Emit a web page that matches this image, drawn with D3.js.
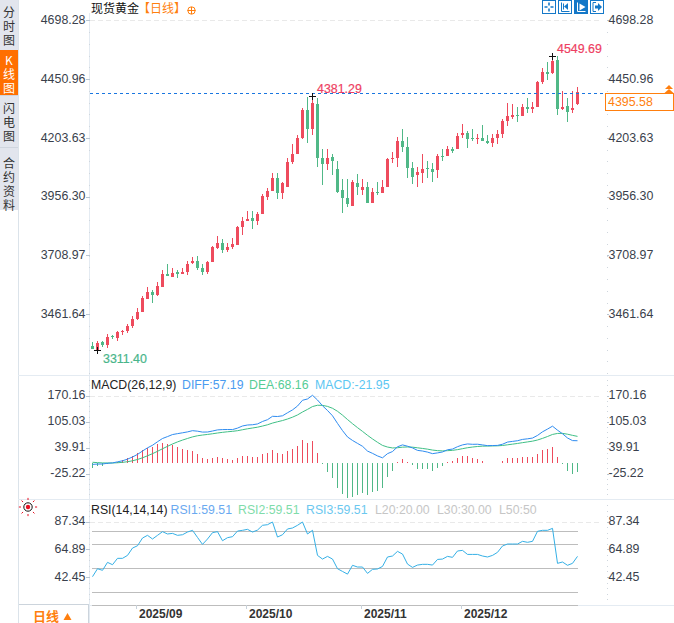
<!DOCTYPE html>
<html><head><meta charset="utf-8">
<script src="https://cdn.jsdelivr.net/npm/d3@7/dist/d3.min.js"></script>
<style>
html,body{margin:0;padding:0;background:#fff;overflow:hidden}
svg{display:block}
text{font-family:"Liberation Sans",Arial,sans-serif}
.cjk{font-family:"Noto Sans CJK SC",sans-serif}
</style></head><body><svg id="c" width="674" height="623"></svg>
<script>
const opens=[3329,3313,3346,3333,3369,3362,3389,3392,3413,3442,3471,3526,3555,3543,3576,3631,3618,3639,3631,3639,3677,3685,3656,3639,3681,3740,3761,3731,3744,3752,3828,3853,3865,3853,3882,3953,3979,4037,3970,3999,4104,4138,4205,4322,4243,4347,4121,4092,4125,4071,3983,3949,3916,4016,3983,3995,3928,3974,3970,3995,4113,4121,4192,4167,4075,4046,4058,4075,4071,4067,4129,4129,4159,4155,4217,4226,4205,4201,4205,4192,4184,4205,4222,4276,4293,4301,4297,4335,4326,4335,4440,4482,4477,4532,4326,4339,4322,4347];
const closes=[3314,3341,3333,3366,3365,3387,3392,3413,3442,3471,3530,3555,3543,3580,3631,3622,3635,3631,3639,3673,3685,3656,3639,3681,3744,3761,3731,3744,3756,3828,3853,3861,3853,3882,3958,3979,4037,3970,4012,4104,4138,4205,4322,4243,4352,4121,4092,4121,4108,3974,3949,3924,4020,3999,3995,3928,3974,3970,3995,4113,4121,4192,4167,4079,4041,4062,4071,4071,4062,4129,4125,4159,4150,4213,4226,4201,4197,4205,4192,4184,4205,4222,4276,4297,4301,4297,4335,4326,4335,4440,4482,4473,4528,4326,4335,4314,4331,4395.58];
const highs=[3346,3350,3350,3379,3375,3392,3396,3421,3454,3488,3538,3576,3564,3597,3647,3673,3656,3647,3656,3685,3702,3706,3673,3685,3748,3790,3777,3761,3781,3832,3870,3895,3895,3891,3966,3991,4058,4058,4020,4117,4180,4217,4331,4377,4381.29,4373,4155,4155,4138,4108,4029,4029,4025,4050,4029,4020,3991,4020,4025,4117,4146,4209,4243,4209,4104,4083,4134,4108,4100,4138,4159,4171,4167,4226,4264,4234,4243,4222,4259,4217,4222,4238,4285,4352,4347,4335,4347,4373,4356,4444,4498,4524,4549.69,4549,4402,4373,4402,4419];
const lows=[3314,3311.4,3325,3320,3358,3350,3375,3383,3404,3438,3471,3526,3509,3538,3576,3622,3618,3614,3631,3626,3673,3647,3626,3631,3681,3735,3719,3723,3735,3752,3794,3853,3819,3836,3882,3941,3979,3945,3945,3999,4092,4138,4201,4184,4217,4083,4004,4067,4046,3970,3886,3911,3916,3962,3962,3928,3928,3962,3970,3995,4096,4083,4146,4037,4008,3995,4016,4037,4020,4037,4108,4129,4142,4155,4205,4163,4192,4176,4192,4176,4167,4180,4205,4255,4285,4272,4297,4310,4310,4335,4431,4448,4473,4301,4322,4272,4310,4343];
const macdHist=[-10.5,-7.1,-5.4,-1.5,0.4,4.6,8,13,19,25.6,34,40,42.3,48,51.5,49,47.3,41.5,36.5,33,31.4,23,14.7,12.2,13.8,15.5,13.8,11.3,8.8,13,18.9,18.9,16.3,16.3,23,25.6,34,26.4,23.9,31.4,36.5,44.8,59,52.4,56.6,26.4,-2.1,-20.5,-37.7,-60.8,-77.5,-87.6,-84.2,-79.2,-75,-79.2,-72.5,-68.3,-62.4,-33.1,-18,4.6,11.3,3.8,-3.8,-13,-13,-14.7,-18,-11.3,-5.4,4.6,6.3,14.7,18.9,18.9,13.8,11.3,6.3,2.1,2.1,2.1,6.3,13.8,13.8,13.8,16.3,15.5,15.5,23,33.1,37.3,41.5,16.3,-2.1,-18.9,-26.4,-21.95];
const dea=[3,2.1,1.4,1.2,1.2,1.8,2.8,4.4,6.8,10,14.3,19.3,24.6,30.6,37,43.1,49,54.2,58.8,62.9,66.8,69.7,71.5,73,74.7,76.6,78.3,79.7,80.8,82.4,84.8,87.2,89.2,91.2,94.1,97.3,101.6,104.9,107.9,111.8,116.4,122,129.4,136,143.1,146.4,146.1,143.5,138.8,131.2,121.5,110.5,100,90.1,80.7,70.8,61.7,53.2,45.4,41.3,39,39.6,41,41.5,41,39.4,37.8,36,33.7,32.3,31.6,32.2,33,34.8,37.2,39.6,41.3,42.7,43.5,43.8,44.1,44.4,45.2,46.9,48.6,50.3,52.3,54.2,56.1,59,63.1,67.8,73,75.5,75.7,73.6,70.7,68.16];
const diff=[-2.3,-1.5,-1.3,0.5,1.4,4.1,6.8,10.9,16.3,22.8,31.3,39.3,45.8,54.6,62.8,67.6,72.7,75,77.1,79.4,82.5,81.2,78.9,79.1,81.6,84.4,85.2,85.4,85.2,88.9,94.3,96.7,97.4,99.4,105.6,110.1,118.6,118.1,119.9,127.5,134.7,144.4,158.9,162.2,171.4,159.6,145.1,133.2,119.9,100.8,82.7,66.7,57.9,50.5,43.2,31.2,25.4,19,14.2,24.7,30,41.9,46.7,43.4,39.1,32.9,31.3,28.6,24.7,26.6,28.9,34.5,36.2,42.2,46.7,49.1,48.2,48.4,46.7,44.8,45.1,45.4,48.4,53.8,55.5,57.2,60.5,62,63.9,70.5,79.6,86.5,93.8,83.7,74.7,64.1,57.5,57.19];
const rsi=[42.9,49.4,48.1,54.6,52.7,57.9,57.9,60.3,66.3,68.2,74.5,76.7,73.7,76.7,79.7,77.8,78.3,76.7,77.2,79.4,80.8,75,69.3,73.7,78.9,79.7,72.3,74.8,75.6,80.2,80.8,81.6,79.4,81,84.9,85.4,87.6,75.3,77.2,81.9,82.7,84.9,87.6,77.8,80.8,60.3,57.3,59.5,57.3,49.4,47.2,45,52.2,50.8,50.8,45.6,48.9,49.2,51.3,59,59.8,63.6,61.4,53.2,50.5,52.4,53,53,52.4,57,57.3,59.5,58.7,63.9,64.4,61.1,61.1,61.1,59.8,59,60.3,62.8,68,69.6,69.6,69.6,71.8,71,71.8,80,80.8,80.8,82.4,53.8,54.9,52.2,53.8,59.51];
const rsiLevels=[80,70,50,30,20];
const priceTicks=[4698.28,4450.96,4203.63,3956.30,3708.97,3461.64];
const macdTicks=[170.16,105.03,39.91,-25.22];
const rsiTicks=[87.34,64.89,42.45];
const monthIdx=[9,31,54,74];
const monthLabels=["2025/09","2025/10","2025/11","2025/12"];
const tabs=["分时图","K线图","闪电图","合约资料"];
const lastPrice=4395.58;
const RED="#ee4b5d",GREEN="#50b887",ORANGE="#ff7f0e",LINE="#e4ebf2",TXT="#3a3f4c";

const svg=d3.select("#c");
const x=d3.scaleLinear().domain([0,97]).range([92.5,577.5]);
const yP=d3.scaleLinear().domain([3461.64,4698.28]).range([314.3,20.3]);
const yM=d3.scaleLinear().domain([-25.22,170.16]).range([473.5,395.8]);
const yR=d3.scaleLinear().domain([20,80]).range([604.7,531.3]);

// panel frames
const bg=svg.append("g");
bg.append("rect").attr("x",0).attr("y",0).attr("width",18).attr("height",210).attr("fill","#e2e5ed");
bg.append("rect").attr("x",18).attr("y",0).attr("width",1).attr("height",623).attr("fill","#dbe3ea");
[375,499].forEach(y=>bg.append("rect").attr("x",18).attr("y",y).attr("width",656).attr("height",1).attr("fill",LINE));
bg.append("rect").attr("x",89).attr("y",605).attr("width",585).attr("height",1).attr("fill",LINE);
bg.append("rect").attr("x",89).attr("y",13).attr("width",1).attr("height",610).attr("fill",LINE);
bg.append("rect").attr("x",19).attr("y",604).attr("width",70).attr("height",1).attr("fill","#ccd4dc");
bg.append("rect").attr("x",88).attr("y",604).attr("width",1).attr("height",19).attr("fill","#ccd4dc");

// side tabs (one vertical text per tab)
const tabTop=[0,50,97,149],tabH=[49,46,50,61],tabText=[6,54,102,157];
tabs.forEach((t,i)=>{
  const g=svg.append("g");
  if(i==1) g.append("rect").attr("x",0).attr("y",tabTop[i]).attr("width",18).attr("height",tabH[i]).attr("fill","#ff6f00");
  if(i>1) g.append("rect").attr("x",0).attr("y",tabTop[i]-2).attr("width",18).attr("height",1).attr("fill","#cfd5de");
  g.append("text").attr("class","cjk").attr("x",9).attr("y",tabText[i])
    .attr("font-size",12).attr("letter-spacing",2.2)
    .style("writing-mode","vertical-rl").style("text-orientation","upright")
    .attr("fill",i==1?"#fff":"#333").text(t);
});

// axes
function axisPanel(scale,ticks,y0,y1,step){
  const minor=[];
  for(let v=scale.domain()[1],n=0;n<60;n++,v-=step){const p=scale(v);if(p>y0&&p<y1)minor.push(v);}
  for(let v=scale.domain()[1]+step,n=0;n<4;n++,v+=step){const p=scale(v);if(p>y0&&p<y1)minor.push(v);}
  [[d3.axisLeft,89.5],[d3.axisRight,606.5]].forEach(([ax,px],k)=>{
    const gm=svg.append("g").attr("transform",`translate(${px},0)`)
      .call(ax(scale).tickValues(minor).tickSize(1).tickFormat(""));
    gm.select(".domain").remove();
    gm.selectAll("line").attr("stroke","#cfd6dd").attr("shape-rendering","crispEdges");
    const g=svg.append("g").attr("transform",`translate(${px},0)`)
      .call(ax(scale).tickValues(ticks).tickSize(k?2:4).tickPadding(k?1:0).tickFormat(d=>d.toFixed(2)));
    g.select(".domain").remove();
    g.selectAll("line").attr("stroke","#b9c6d2").attr("shape-rendering","crispEdges");
    g.selectAll("text").attr("font-size",12.4).attr("fill",TXT)
      .attr("font-family",'"Liberation Sans",Arial,sans-serif').attr("dy","0.25em")
      .attr("x",k?2:-4);
  });
}
axisPanel(yP,priceTicks,14,375,247.33/5);
axisPanel(yM,macdTicks,376,499,65.13/5);
axisPanel(d3.scaleLinear().domain([42.45,87.34]).range([577,521.6]),rsiTicks,500,604,22.45/5);

// top dashed
[[yP(priceTicks[0]),89],[yM(macdTicks[0]),89],[yR(87.34)-.6,89]].forEach(([y])=>{
  svg.append("line").attr("x1",90).attr("x2",602).attr("y1",Math.round(y)+.5).attr("y2",Math.round(y)+.5)
    .attr("stroke","#e9e9e9").attr("stroke-dasharray","5 3");
});

// candles
const idx=d3.range(opens.length);
const gC=svg.append("g").attr("shape-rendering","crispEdges");
const col=i=>closes[i]>=opens[i]?RED:GREEN;
gC.selectAll(".w").data(idx).join("rect").attr("class","w")
  .attr("x",i=>Math.floor(x(i))).attr("width",1)
  .attr("y",i=>Math.round(yP(highs[i]))).attr("height",i=>Math.max(1,Math.round(yP(lows[i]))-Math.round(yP(highs[i]))))
  .attr("fill",col);
gC.selectAll(".b").data(idx).join("rect").attr("class","b")
  .attr("x",i=>Math.floor(x(i))-1).attr("width",3)
  .attr("y",i=>Math.round(yP(Math.max(opens[i],closes[i]))))
  .attr("height",i=>Math.max(1,Math.round(yP(Math.min(opens[i],closes[i])))-Math.round(yP(Math.max(opens[i],closes[i])))))
  .attr("fill",col);

// last-price line
const ly=Math.ceil(yP(lastPrice))+.5;
svg.append("line").attr("x1",90).attr("x2",606).attr("y1",ly).attr("y2",ly)
  .attr("stroke","#1976e0").attr("stroke-dasharray","3 3").attr("shape-rendering","crispEdges");

// hi / lo markers
function cross(i,v){
  const cx=Math.floor(x(i))+.5,cyy=Math.round(yP(v))+.5;
  svg.append("path").attr("d",`M${cx-3.5},${cyy}H${cx+3.5}M${cx},${cyy-3.5}V${cyy+3.5}`).attr("stroke","#111").attr("shape-rendering","crispEdges");
}
cross(44,highs[44]);cross(92,highs[92]);cross(1,lows[1]);
const lab=(tx,ty,s,c,fw)=>svg.append("text").attr("x",tx).attr("y",ty).attr("font-size",12.4).attr("font-weight",fw||"normal").attr("fill",c).text(s);
lab(317,93,"4381.29","#ee3f62").attr("stroke","#ee3f62").attr("stroke-width",.2);
lab(557,52.5,"4549.69","#ee3f62").attr("stroke","#ee3f62").attr("stroke-width",.2);
lab(103,362.5,"3311.40","#48b58a").attr("stroke","#48b58a").attr("stroke-width",.2);

// current price box
svg.append("rect").attr("x",605.5).attr("y",93.5).attr("width",67.5).attr("height",16.5).attr("fill","#fff").attr("stroke",ORANGE).attr("shape-rendering","crispEdges");
lab(608,106,"4395.58",ORANGE);
svg.append("path").attr("d","M669,85l4,4h-8zM669,89l4.5,4h-9z").attr("fill",ORANGE);

// title
svg.append("text").attr("class","cjk").attr("x",91).attr("y",13).attr("font-size",12).attr("fill","#111").text("现货黄金");
svg.append("text").attr("class","cjk").attr("x",138).attr("y",13).attr("font-size",12).attr("fill",ORANGE).text("【日线】");
svg.append("circle").attr("cx",191.5).attr("cy",10.5).attr("r",3.7).attr("fill","none").attr("stroke",ORANGE);
svg.append("path").attr("d","M187.5,10.5h8M191.5,7v7").attr("stroke",ORANGE);

// toolbar icons
const BL="#1478c8";
[[542.5,0],[558.5,0],[574.5,1],[590.5,0]].forEach(([bx,f],i)=>{
  const g=svg.append("g").attr("transform",`translate(${bx},0.5)`);
  g.append("rect").attr("width",13).attr("height",13).attr("fill",f?BL:"#fff").attr("stroke",BL).attr("shape-rendering","crispEdges");
  const c=f?"#fff":BL;
  if(i==0) g.append("path").attr("d","M6.5,2v3M6.5,8v3M2,6.5h3M8,6.5h3").attr("stroke",c).attr("stroke-width",1.6);
  if(i==1){g.append("path").attr("d","M3,2v9h8M5,3v6M9,3v6").attr("stroke",c).attr("fill","none");g.append("path").attr("d","M5.5,6l3,-2.5v5z").attr("fill",c);}
  if(i==2){g.append("path").attr("d","M3,2v9h8").attr("stroke",c).attr("fill","none");g.append("path").attr("d","M5,3l6,3.5-6,3.5z").attr("fill",c);}
  if(i==3){g.append("path").attr("d","M2.5,2v9M2.5,2h3M2.5,11h3").attr("stroke",c).attr("fill","none");g.append("path").attr("d","M4.5,5h3V2.5l4,4-4,4V8h-3z").attr("fill",c);}
});

// MACD
const legend=(ty,items)=>items.forEach(([tx,s,c])=>svg.append("text").attr("x",tx).attr("y",ty).attr("font-size",12.3).attr("fill",c).text(s));
legend(388.5,[[91,"MACD(26,12,9)","#222"],[182,"DIFF:57.19","#4a9bf0"],[249,"DEA:68.16","#55cc95"],[315,"MACD:-21.95","#5cc6f2"]]);
svg.append("g").attr("shape-rendering","crispEdges").selectAll("rect").data(idx).join("rect")
  .attr("x",i=>Math.floor(x(i))).attr("width",1)
  .attr("y",i=>Math.min(yM(0),yM(macdHist[i]))).attr("height",i=>Math.abs(yM(macdHist[i])-yM(0)))
  .attr("fill",i=>macdHist[i]>=0?RED:GREEN);
const ln=(s,arr)=>d3.line().x((d,i)=>x(i)).y(d=>s(d))(arr);
svg.append("path").attr("d",ln(yM,dea)).attr("fill","none").attr("stroke","#3fbf86");
svg.append("path").attr("d",ln(yM,diff)).attr("fill","none").attr("stroke","#2f8cf0");

// RSI
legend(514,[[91,"RSI(14,14,14)","#222"],[170.5,"RSI1:59.51","#6aa9f0"],[238,"RSI2:59.51","#7fdcaa"],[306,"RSI3:59.51","#6cc8ef"],[375,"L20:20.00","#c6c6c6"],[437,"L30:30.00","#c6c6c6"],[499,"L50:50","#c6c6c6"]]);
svg.append("g").selectAll("line").data(rsiLevels).join("line")
  .attr("x1",x(0)-.5).attr("x2",x(97)).attr("y1",d=>Math.round(yR(d))+.5).attr("y2",d=>Math.round(yR(d))+.5)
  .attr("stroke","#bdbdbd").attr("shape-rendering","crispEdges");
svg.append("path").attr("d",ln(yR,rsi)).attr("fill","none").attr("stroke","#35b0e6");

// sun icon
const sun=svg.append("g").attr("transform","translate(28,507)");
d3.range(8).forEach(k=>{const a=k*Math.PI/4;sun.append("line").attr("x1",7*Math.cos(a)).attr("y1",7*Math.sin(a)).attr("x2",4.8*Math.cos(a)*1.9).attr("y2",4.8*Math.sin(a)*1.9).attr("stroke","#e81123");});
sun.append("circle").attr("r",4.2).attr("fill","#fff").attr("stroke","#111");
sun.append("circle").attr("r",2.2).attr("fill","#e81123");

// x axis
const gx=svg.append("g").attr("transform","translate(0,605)")
  .call(d3.axisBottom(x).tickValues(monthIdx).tickSize(4).tickPadding(0).tickFormat((d,i)=>monthLabels[i]));
gx.select(".domain").remove();
gx.selectAll("line").attr("stroke","#c8d2da").attr("shape-rendering","crispEdges").attr("transform","translate(-.5,0)");
gx.selectAll("text").attr("text-anchor","start").attr("x",2).attr("y",13).attr("dy",0)
  .attr("font-size",12).attr("font-weight","bold").attr("fill","#333")
  .attr("font-family",'"Liberation Sans",Arial,sans-serif');
gx.selectAll(".tick").attr("transform",d=>`translate(${Math.floor(x(d))},0)`);

// period button
svg.append("text").attr("class","cjk").attr("x",33).attr("y",620.5).attr("font-size",13).attr("font-weight","bold").attr("fill",ORANGE).text("日线");
svg.append("path").attr("d","M63.5,620l4,-7 4,7z").attr("fill",ORANGE);
</script></body></html>
